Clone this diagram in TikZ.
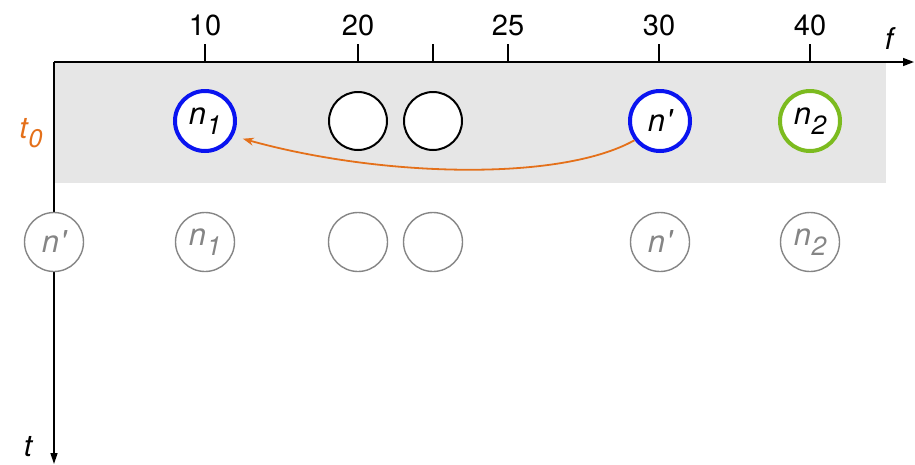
\documentclass[tikz,border=0pt]{standalone}
\usepackage{fontspec}
\setmainfont{TeX Gyre Heros}
\usetikzlibrary{arrows.meta}
\definecolor{bandgray}{HTML}{E6E6E6}
\definecolor{nblue}{HTML}{0A14F0}
\definecolor{ngreen}{HTML}{7CBB1F}
\definecolor{norange}{HTML}{E4701A}
\definecolor{ghost}{HTML}{858585}
% subscript set a little smaller and lowered
\newcommand{\lowsub}[1]{\kern0.5pt\raisebox{-0.3em}{\scalebox{0.85}{#1}}}
\begin{document}
\begin{tikzpicture}[x=1pt,y=-1pt,
  lbl/.style={font=\fontsize{29}{29}\selectfont},
  cell/.style={circle,draw,fill=white,minimum size=58pt,inner sep=0pt,line width=2pt,font=\fontsize{31}{31}\selectfont\itshape},
  hot/.style={cell,minimum size=60pt,line width=4pt},
  past/.style={cell,minimum size=59pt,line width=1.4pt,draw=ghost,text=ghost},
  tick/.style={line width=1.5pt}]
\useasboundingbox (0,0) rectangle (915,464);
% current time band
\fill[bandgray] (54,62) rectangle (886,183);
% axes
\coordinate (o) at (54,62);
\coordinate (fend) at (914,62);
\coordinate (tend) at (54,464);
\draw[line width=1.5pt,-{Triangle[length=11pt,width=8pt]}] (o) -- (fend);
\draw[line width=1.5pt,-{Triangle[length=11pt,width=7pt]}] (o) -- (tend);
\node[lbl,font=\fontsize{30}{30}\selectfont\itshape] (flab) at (889,39) {f};
\node[lbl,font=\fontsize{30}{30}\selectfont\itshape] (tlab) at (28,447) {t};
\node[lbl,font=\fontsize{30}{30}\selectfont\itshape,text=norange] (t0) at (31,133) {t\lowsub{0}};
% frequency ticks
\foreach \x/\v in {205/10,358/20,508/25,659/30,810/40}{
  \draw[tick] (\x,44) -- (\x,62);
  \node[lbl] at (\x,25) {\v};
}
\draw[tick] (433,44) -- (433,62);
% nodes at t0
\node[hot,draw=nblue] (n1) at (205,121) {n\lowsub{1}};
\node[cell] (c20) at (358,121) {};
\node[cell] (c22) at (433,121) {};
\node[hot,draw=nblue] (np) at (660,121) {n\kern1pt\textquotesingle};
\node[hot,draw=ngreen] (n2) at (810,121) {n\lowsub{2}};
% nodes at the next step
\node[past] (pnp) at (54,242) {n\kern1pt\textquotesingle};
\node[past] (pn1) at (205,242) {n\lowsub{1}};
\node[past] (p20) at (358,242) {};
\node[past] (p22) at (433,242) {};
\node[past] (pnp2) at (660,242) {n\kern1pt\textquotesingle};
\node[past] (pn2) at (810,242) {n\lowsub{2}};
% move n' towards n1
\draw[norange,line width=1.8pt,shorten >=10pt,-{Stealth[length=11pt,width=8pt]}]
  (np.-143) .. controls (560,182) and (380,177) .. (n1.-28);
\end{tikzpicture}
\end{document}
